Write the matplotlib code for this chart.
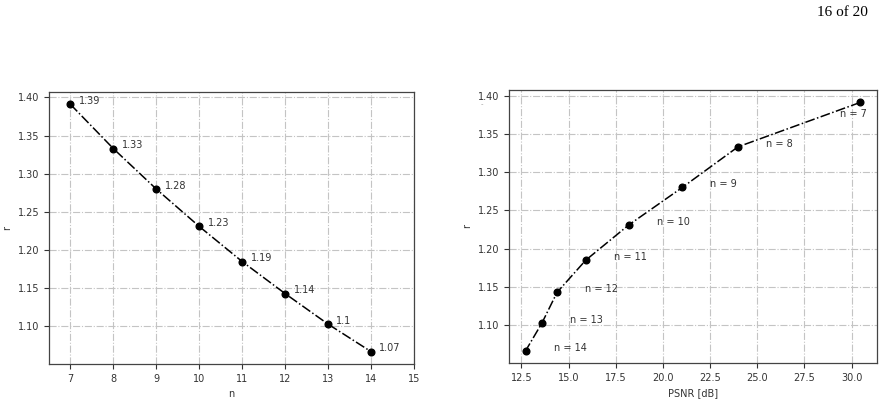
import matplotlib
matplotlib.use("Agg")
import matplotlib.pyplot as plt

# Data
n_values = [7, 8, 9, 10, 11, 12, 13, 14]
r_values = [1.391, 1.333, 1.280, 1.231, 1.185, 1.143, 1.103, 1.067]
r_labels = ["1.39", "1.33", "1.28", "1.23", "1.19", "1.14", "1.1", "1.07"]
psnr_values = [30.46, 23.98, 21.03, 18.19, 15.91, 14.39, 13.59, 12.73]
n_labels = ["n = 7", "n = 8", "n = 9", "n = 10", "n = 11", "n = 12", "n = 13", "n = 14"]
left_xticks = [7, 8, 9, 10, 11, 12, 13, 14, 15]

plt.rcParams['font.family'] = ['DejaVu Sans']
plt.rcParams['font.size'] = 7

fig = plt.figure(figsize=(8.84, 4.03), dpi=100)
ax1 = fig.add_axes([0.0554, 0.0968, 0.4129, 0.6749])
ax2 = fig.add_axes([0.5758, 0.0993, 0.4163, 0.6774])

tc = '#333333'
for ax in (ax1, ax2):
    ax.grid(True, linestyle='-.', color='#c4c4c4', linewidth=0.8)
    ax.set_axisbelow(True)
    for s in ax.spines.values():
        s.set_color('#444444')
        s.set_linewidth(0.9)
    ax.tick_params(labelsize=7, colors=tc, length=3.5, width=0.8)

# Left panel
ax1.plot(n_values, r_values, linestyle='-.', color='black', marker='o', markersize=4.8, linewidth=1.1)
for x, y, lab in zip(n_values, r_values, r_labels):
    ax1.annotate(lab, (x, y), xytext=(6, 2.4), textcoords='offset points',
                 ha='left', va='center', fontsize=7, color=tc)
ax1.set_xticks(left_xticks)
ax1.set_xlim(6.5, 15)
ax1.set_xlabel('n', fontsize=7, color=tc)
ax1.set_ylabel('r', fontsize=7, color=tc)

# Right panel
ax2.plot(psnr_values, r_values, linestyle='-.', color='black', marker='o', markersize=4.8, linewidth=1.1)
for i, (x, y, lab) in enumerate(zip(psnr_values, r_values, n_labels)):
    if i == 0:
        off = (-14.4, -8)
    else:
        off = (20, 2.2)
    ax2.annotate(lab, (x, y), xytext=off, textcoords='offset points',
                 ha='left', va='center', fontsize=7, color=tc)
ax2.set_xlabel('PSNR [dB]', fontsize=7, color=tc)
ax2.set_ylabel('r', fontsize=7, color=tc)

# page header
fig.text(0.982, 0.968, '16 of 20', ha='right', va='center', fontsize=11,
         family=['Liberation Serif', 'DejaVu Serif'], color='black')
fig.text(0.545, 1 - 104 / 403, '-', ha='center', va='center', fontsize=5, color='#999999')

fig.savefig('out.png', dpi=100)
